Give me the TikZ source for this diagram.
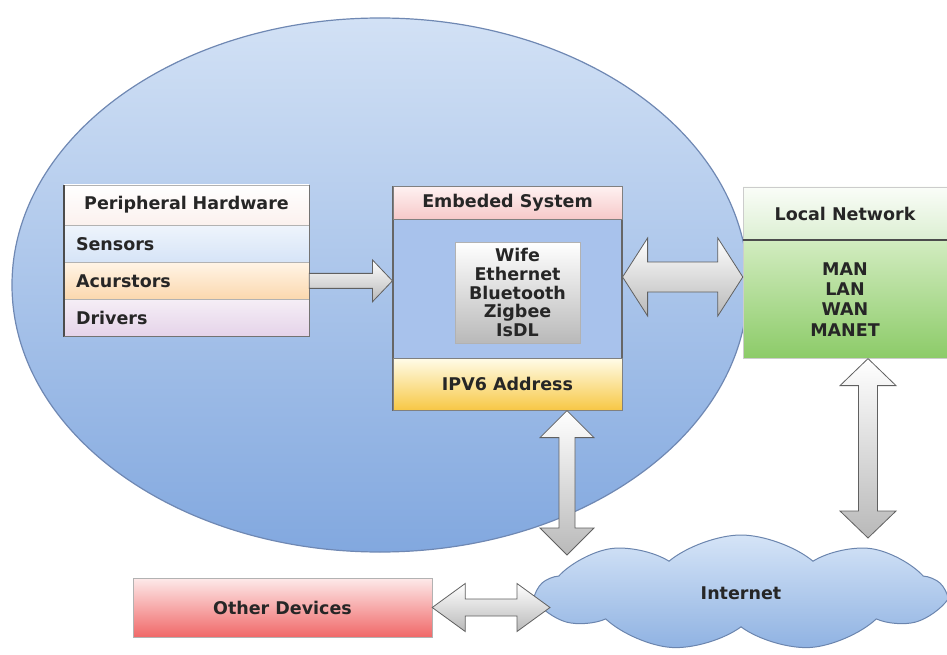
\documentclass[tikz,border=0pt]{standalone}
\usepackage{fontspec}
\setmainfont{DejaVu Sans}
\usetikzlibrary{shapes.geometric,shapes.symbols,positioning,calc}

\definecolor{globetop}{HTML}{D2E1F5}
\definecolor{globebot}{HTML}{82A8DF}
\definecolor{globeedge}{HTML}{6F88B3}
\definecolor{hwbot}{HTML}{FBF1EE}
\definecolor{senstop}{HTML}{EEF4FC}
\definecolor{sensbot}{HTML}{D6E4F7}
\definecolor{acurtop}{HTML}{FFF4E6}
\definecolor{acurbot}{HTML}{FBD8AE}
\definecolor{drvtop}{HTML}{F5EEF6}
\definecolor{drvbot}{HTML}{E5D3E9}
\definecolor{embfill}{HTML}{A8C2EC}
\definecolor{embhdtop}{HTML}{FEF1F1}
\definecolor{embhdbot}{HTML}{F6C8C8}
\definecolor{ipvtop}{HTML}{FFFCE8}
\definecolor{ipvbot}{HTML}{F7C744}
\definecolor{lnhdtop}{HTML}{FAFDF8}
\definecolor{lnhdbot}{HTML}{DCEFD2}
\definecolor{lntop}{HTML}{D2ECC0}
\definecolor{lnbot}{HTML}{8CCB68}
\definecolor{othtop}{HTML}{FDEAEA}
\definecolor{othbot}{HTML}{F06868}
\definecolor{cloudtop}{HTML}{D5E4F7}
\definecolor{cloudbot}{HTML}{8FB2E2}
\definecolor{cloudedge}{HTML}{6B85AE}

\tikzset{
  lbl/.style={font=\fontsize{17.5}{19}\selectfont\bfseries, text=black!85},
  rowbox/.style={lbl, draw=gray!60, minimum width=245pt, minimum height=36.7pt,
    text width=221pt, inner xsep=12pt, align=left},
  blockarr/.style={draw=gray!75!black, line width=0.8pt, top color=white,
    bottom color=gray!55},
}

% block arrow with two heads: from, to, shaft half width, head half width, head length
\newcommand\dblarrow[5]{%
  \draw[blockarr] (#1)
    -- ($(#1)!#5!(#2)!#4!90:(#2)$) -- ($(#1)!#5!(#2)!#3!90:(#2)$)
    -- ($(#2)!#5!(#1)!#3!-90:(#1)$) -- ($(#2)!#5!(#1)!#4!-90:(#1)$)
    -- (#2)
    -- ($(#2)!#5!(#1)!#4!90:(#1)$) -- ($(#2)!#5!(#1)!#3!90:(#1)$)
    -- ($(#1)!#5!(#2)!#3!-90:(#2)$) -- ($(#1)!#5!(#2)!#4!-90:(#2)$)
    -- cycle;}
% block arrow with one head
\newcommand\sglarrow[5]{%
  \draw[blockarr] ($(#1)!#3!90:(#2)$)
    -- ($(#2)!#5!(#1)!#3!-90:(#1)$) -- ($(#2)!#5!(#1)!#4!-90:(#1)$)
    -- (#2)
    -- ($(#2)!#5!(#1)!#4!90:(#1)$) -- ($(#2)!#5!(#1)!#3!90:(#1)$)
    -- ($(#1)!#3!-90:(#2)$) -- cycle;}

\begin{document}
\begin{tikzpicture}[x=1pt,y=-1pt]
\useasboundingbox (0,0) rectangle (947,655);

% device
\node[ellipse, draw=globeedge, line width=1.2pt, top color=globetop, bottom color=globebot,
  minimum width=736pt, minimum height=534pt, inner sep=0pt] (iot) at (380,285) {};

% peripheral hardware
\node[rowbox, align=center, minimum height=40pt, top color=white, bottom color=hwbot] (perhw) at (186.5,205) {Peripheral Hardware};
\node[rowbox, below=0pt of perhw, top color=senstop, bottom color=sensbot] (sens) {Sensors};
\node[rowbox, below=0pt of sens, top color=acurtop, bottom color=acurbot] (acur) {Acurstors};
\node[rowbox, below=0pt of acur, top color=drvtop, bottom color=drvbot] (drv) {Drivers};
\draw[black!70, line width=2pt] (perhw.north west) -- (drv.south west);
\draw[black!55, line width=1pt] (perhw.north east) -- (drv.south east) -- (drv.south west);

% embedded system
\node[draw=black!60, line width=1.2pt, fill=embfill, minimum width=229pt, minimum height=223pt] (emb) at (507.5,298.5) {};
\node[lbl, anchor=north, draw=black!50, minimum width=229pt, minimum height=33pt,
  top color=embhdtop, bottom color=embhdbot] (embhd) at (emb.north) {Embeded System};
\node[lbl, anchor=south, draw=black!50, minimum width=229pt, minimum height=52pt,
  top color=ipvtop, bottom color=ipvbot] (ipv6) at (emb.south) {IPV6 Address};
\node[lbl, font=\fontsize{17.5}{18.75}\selectfont\bfseries, align=center, draw=gray!60,
  inner sep=2pt, minimum width=125pt, minimum height=101pt, top color=white,
  bottom color=gray!55] (radios) at (517.5,292.5) {Wife\\Ethernet\\Bluetooth\\Zigbee\\IsDL};

% local network
\node[lbl, draw=gray!40, minimum width=204pt, minimum height=53pt, top color=lnhdtop,
  bottom color=lnhdbot] (lnhd) at (845,213.5) {Local Network};
\node[lbl, font=\fontsize{17.5}{20.3}\selectfont\bfseries, below=0pt of lnhd, align=center,
  draw=gray!40, minimum width=204pt, minimum height=118pt, top color=lntop,
  bottom color=lnbot] (lnbody) {MAN\\LAN\\WAN\\MANET};
\draw[black!70, line width=1.5pt] (lnhd.south west) -- (lnhd.south east);

% internet
\node[lbl, cloud, cloud puffs=9, cloud puff arc=80, aspect=3.4, draw=cloudedge,
  line width=1pt, top color=cloudtop, bottom color=cloudbot, minimum width=404pt,
  minimum height=116pt, inner sep=0pt] (inet) at (741,593) {Internet};

% other devices
\node[lbl, draw=gray!60, minimum width=299pt, minimum height=59pt, top color=othtop,
  bottom color=othbot] (other) at (282.5,607.5) {Other Devices};

% arrows
\coordinate (phin) at (acur.east -| emb.west);
\coordinate (embR) at (emb.east |- 0,277);
\coordinate (lnin) at (lnbody.west |- embR);
\coordinate (ipdn) at (ipv6.south -| 567,0);
\coordinate (netup) at (567,555);
\coordinate (lndn) at (lnbody.south -| 868,0);
\coordinate (netrt) at (868,538);
\coordinate (netlf) at (other.east -| 550,0);

\sglarrow{acur.east}{phin}{7.5pt}{21pt}{20pt}
\dblarrow{embR}{lnin}{15pt}{39pt}{25pt}
\dblarrow{ipdn}{netup}{8pt}{27pt}{27pt}
\dblarrow{lndn}{netrt}{9.5pt}{28pt}{27pt}
\dblarrow{other.east}{netlf}{8.5pt}{24pt}{33pt}
\end{tikzpicture}
\end{document}
